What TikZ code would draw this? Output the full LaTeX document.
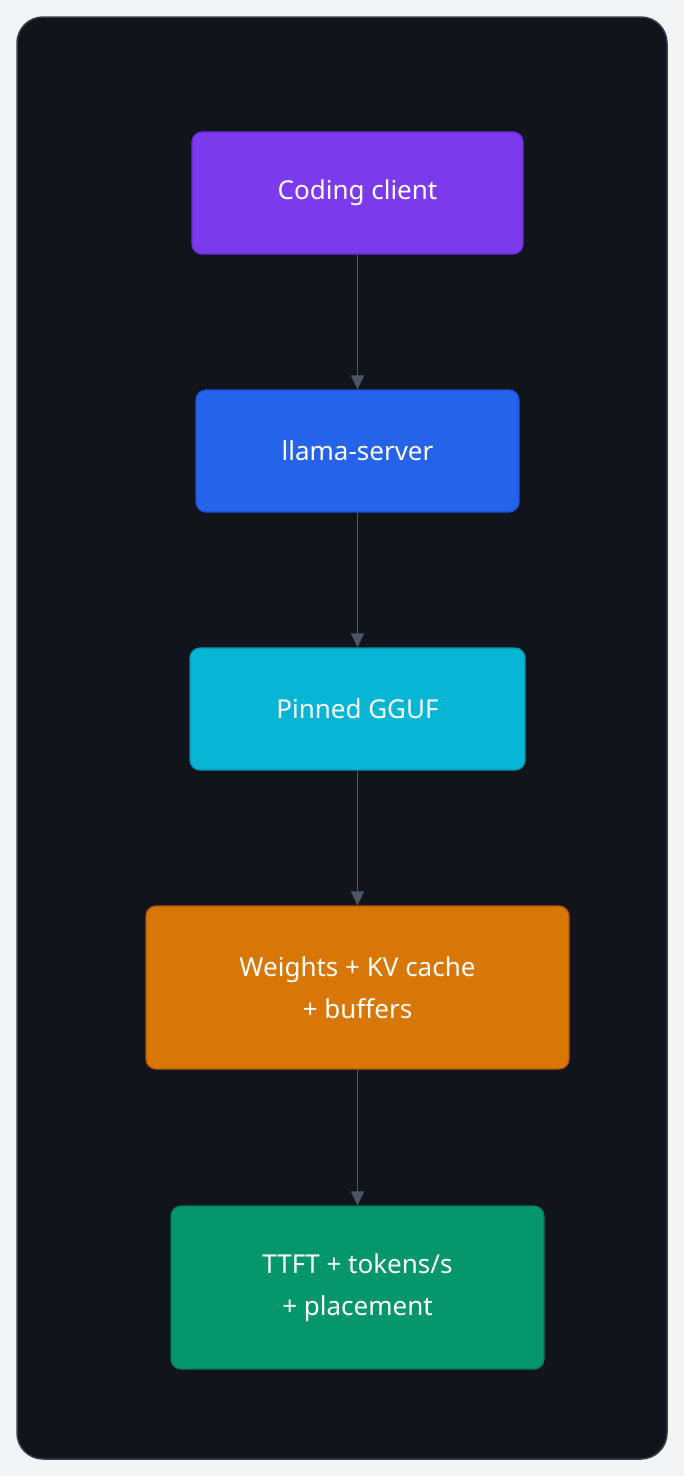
\documentclass[tikz,border=0pt]{standalone}
\usepackage{fontspec}
\setmainfont{Noto Sans}
\usetikzlibrary{arrows.meta}
\definecolor{bgout}{HTML}{F3F4F6}
\definecolor{panel}{HTML}{12141C}
\definecolor{panelb}{HTML}{3A3F4A}
\definecolor{arr}{HTML}{4B5563}
\definecolor{c1}{HTML}{7C3AED}\definecolor{d1}{HTML}{6D28D9}
\definecolor{c2}{HTML}{2563EB}\definecolor{d2}{HTML}{1D4ED8}
\definecolor{c3}{HTML}{06B6D4}\definecolor{d3}{HTML}{0891B2}
\definecolor{c4}{HTML}{D97706}\definecolor{d4}{HTML}{B45309}
\definecolor{c5}{HTML}{059669}\definecolor{d5}{HTML}{047857}
\tikzset{
 box/.style={draw, line width=1.2pt, rounded corners=10pt, minimum height=#1, align=center, text=white, font=\fontsize{26}{42}\selectfont},
 conn/.style={draw=arr, line width=1.3pt, -{Triangle[length=14pt,width=13pt]}}
}
\begin{document}
\begin{tikzpicture}[x=1pt,y=-1pt]
\useasboundingbox (0,0) rectangle (684,1476);
\fill[bgout] (0,0) rectangle (684,1476);
\draw[fill=panel, draw=panelb, line width=1.5pt, rounded corners=26pt] (17,17) rectangle (667,1459);
\node[box=122pt, minimum width=331pt, fill=c1, draw=d1] (a) at (357.5,193) {Coding client};
\node[box=122pt, minimum width=323pt, fill=c2, draw=d2] (b) at (357.5,451) {llama-server};
\node[box=122pt, minimum width=335pt, fill=c3, draw=d3] (c) at (357.5,709) {Pinned GGUF};
\node[box=163pt, minimum width=423pt, fill=c4, draw=d4] (d) at (357.5,987.5) {Weights + KV cache\\+ buffers};
\node[box=163pt, minimum width=373pt, fill=c5, draw=d5] (e) at (357.5,1287.5) {TTFT + tokens/s\\+ placement};
\draw[conn] (a) -- (b);
\draw[conn] (b) -- (c);
\draw[conn] (c) -- (d);
\draw[conn] (d) -- (e);
\end{tikzpicture}
\end{document}
